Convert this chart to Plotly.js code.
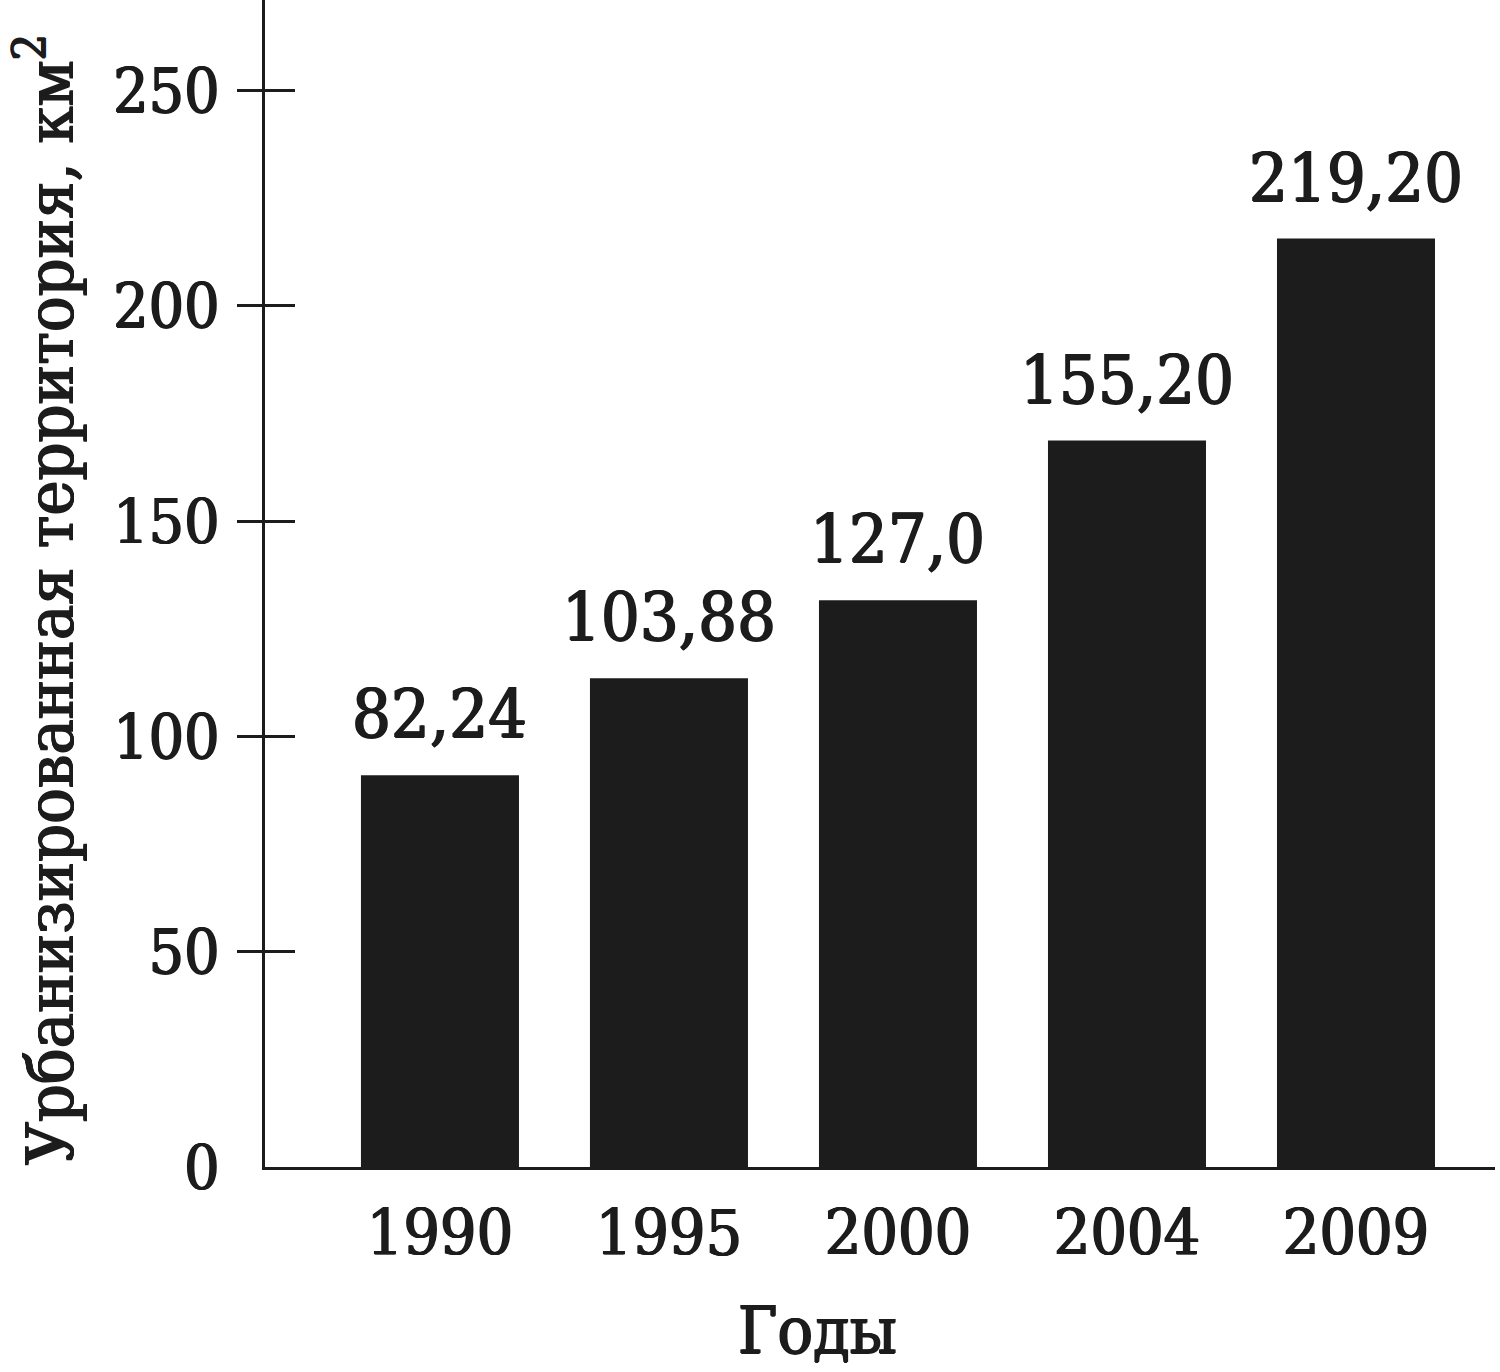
<!DOCTYPE html>
<html>
<head>
<meta charset="utf-8">
<script src="https://cdn.plot.ly/plotly-3.0.1.min.js"></script>
<style>
  body { margin: 0; background: #fff; }
  #graph { width: 1500px; height: 1372px; }
</style>
</head>
<body>
<div id="graph"></div>
<script>
// years on the x axis
const years = ['1990', '1995', '2000', '2004', '2009'];
// bar heights as drawn in the picture (km2 on the axis scale)
const barHeights = [91, 113.5, 131.6, 168.7, 215.6];
// printed values above the bars
const barLabels = ['82,24', '103,88', '127,0', '155,20', '219,20'];
// y axis ticks
const yTicks = [0, 50, 100, 150, 200, 250];
const yTickText = ['0', '50', '100', '150', '200', '250'];
const yMarks = [50, 100, 150, 200, 250];

const font = 'DejaVu Serif Condensed, DejaVu Serif, serif';
const ink = '#1c1c1c';
// a thin halo to thicken the strokes a little, like the printed face
const heavy = '0.9px 0 0 #1c1c1c, -0.9px 0 0 #1c1c1c, 0 0.6px 0 #1c1c1c';

document.addEventListener('DOMContentLoaded', function(event)
{
  displayPlot('graph');
});

function displayPlot(divPlot)
{
  let bars = {
    type: 'bar',
    x: years,
    y: barHeights,
    marker: { color: ink, line: { width: 0 } },
    width: 0.69,
    hoverinfo: 'skip'
  };

  // value labels above each bar (x is the category index)
  let valueNotes = [];
  for (let i = 0; i < years.length; i++)
  {
    valueNotes.push({
      x: i,
      y: barHeights[i],
      text: barLabels[i],
      xref: 'x', yref: 'y',
      xanchor: 'center', yanchor: 'bottom',
      yshift: 20,
      showarrow: false,
      font: { family: font, size: 68, color: ink, shadow: heavy }
    });
  }

  let layout =
  {
    width: 1500,
    height: 1372,
    margin: { l: 265, r: 5, t: 0, b: 205 },
    paper_bgcolor: '#ffffff',
    plot_bgcolor: '#ffffff',
    showlegend: false,
    font: { family: font, size: 64, color: ink },

    xaxis:
    {
      type: 'category',
      range: [-0.764, 4.607],
      showline: true,
      linecolor: ink,
      linewidth: 3,
      ticks: '',
      showgrid: false,
      zeroline: false,
      ticklabelstandoff: 8,
      tickfont: { family: font, size: 64, color: ink, shadow: heavy }
    },
    yaxis:
    {
      range: [0, 271],
      showline: true,
      linecolor: ink,
      linewidth: 3,
      ticks: '',
      tickvals: yTicks,
      ticktext: yTickText,
      ticklabelstandoff: 30,
      showgrid: false,
      zeroline: false,
      tickfont: { family: font, size: 62, color: ink, shadow: heavy }
    },
    // crossing tick marks, outer part
    yaxis2:
    {
      overlaying: 'y',
      side: 'left',
      anchor: 'x',
      range: [0, 271],
      showline: false,
      showgrid: false,
      zeroline: false,
      showticklabels: false,
      tickvals: yMarks,
      ticks: 'outside',
      ticklen: 27,
      tickwidth: 3,
      tickcolor: ink
    },
    // crossing tick marks, inner part
    yaxis3:
    {
      overlaying: 'y',
      side: 'left',
      anchor: 'x',
      range: [0, 271],
      showline: false,
      showgrid: false,
      zeroline: false,
      showticklabels: false,
      tickvals: yMarks,
      ticks: 'inside',
      ticklen: 30,
      tickwidth: 3,
      tickcolor: ink
    },
    annotations: valueNotes.concat([
      {
        text: 'Урбанизированная территория, км<sup>2</sup>',
        textangle: -90,
        xref: 'paper', yref: 'paper',
        x: (45 - 265) / 1230, y: 1 - 600 / 1167,
        xanchor: 'center', yanchor: 'middle',
        showarrow: false,
        font: { family: font, size: 66, color: ink, shadow: heavy }
      },
      {
        text: 'Годы',
        xref: 'paper', yref: 'paper',
        x: (817 - 265) / 1230, y: -(1330 - 1167) / 1167,
        xanchor: 'center', yanchor: 'middle',
        showarrow: false,
        font: { family: font, size: 66, color: ink, shadow: heavy }
      }
    ]),
    hovermode: false
  };

  // empty traces so the overlay axes get drawn
  let dummy2 = { x: [years[0]], y: [null], yaxis: 'y2', type: 'scatter', hoverinfo: 'skip' };
  let dummy3 = { x: [years[0]], y: [null], yaxis: 'y3', type: 'scatter', hoverinfo: 'skip' };

  Plotly.newPlot(divPlot, [bars, dummy2, dummy3], layout, { staticPlot: true });
}
</script>
</body>
</html>
